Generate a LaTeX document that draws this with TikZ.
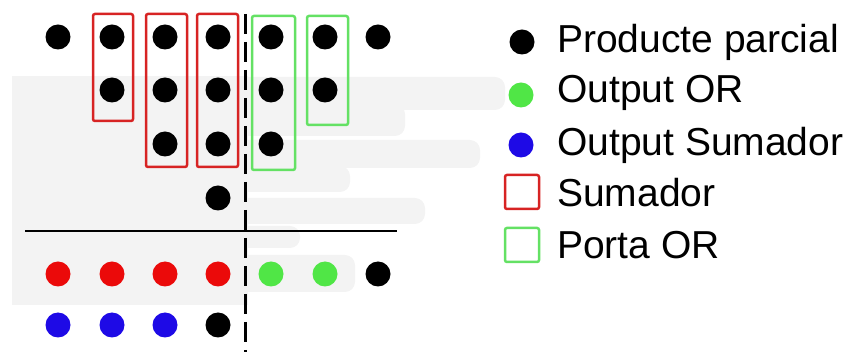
\documentclass[tikz,border=0pt]{standalone}
\usepackage{fontspec}
\setmainfont{Liberation Sans}
\usepackage{xcolor}

\definecolor{dotred}{RGB}{235,10,10}
\definecolor{dotgreen}{RGB}{80,230,70}
\definecolor{dotblue}{RGB}{30,10,230}
\definecolor{boxred}{RGB}{215,35,35}
\definecolor{boxgreen}{RGB}{100,225,100}
\definecolor{backgray}{RGB}{243,243,243}

\tikzset{
	bit/.style={circle, fill=#1, inner sep=0pt, minimum size=25pt},
	bit/.default=black,
	sumbox/.style={draw=boxred, line width=2.5pt, rounded corners=2pt},
	orbox/.style={draw=boxgreen, line width=2.5pt, rounded corners=2pt},
	stroke/.style={fill=backgray, rounded corners=10pt},
	legtext/.style={anchor=west, inner sep=0pt, font=\fontsize{39}{45}\selectfont}
}

\begin{document}
\begin{tikzpicture}[x=1pt, y=-1pt]
	\useasboundingbox (0,0) rectangle (852,352);
	
	% fons gris
	\fill[backgray] (12,76) rectangle (248,305);
	\fill[stroke] (230,77) rectangle (505,110);
	\fill[stroke] (230,104) rectangle (405,136);
	\fill[stroke] (230,140) rectangle (480,168);
	\fill[stroke] (230,166) rectangle (350,192);
	\fill[stroke] (230,198) rectangle (425,224);
	\fill[stroke] (230,226) rectangle (300,248);
	\fill[stroke] (25,255) rectangle (355,292);
	
	% productes parcials
	\foreach \c/\x in {1/58,2/112,3/165,4/218,5/271,6/325,7/378}
		\node[bit] (p1\c) at (\x,37) {};
	\foreach \c/\x in {2/112,3/165,4/218,5/271,6/325}
		\node[bit] (p2\c) at (\x,90) {};
	\foreach \c/\x in {3/165,4/218,5/271}
		\node[bit] (p3\c) at (\x,144) {};
	\node[bit] (p44) at (218,198) {};
	
	% sumadors i portes OR
	\draw[sumbox] (93,14) rectangle (133,121);
	\draw[sumbox] (146,14) rectangle (187,167);
	\draw[sumbox] (197,14) rectangle (238,167);
	\draw[orbox] (252,16) rectangle (295,170);
	\draw[orbox] (307,16) rectangle (348,125);
	
	% linies
	\coordinate (top) at (245,14);
	\coordinate (bot) at (245,352);
	\coordinate (left) at (25,231);
	\coordinate (right) at (397,231);
	\draw[line width=3pt, dash pattern=on 20pt off 8pt] (top) -- (bot);
	\draw[line width=2.5pt] (left) -- (right);
	
	% resultat
	\foreach \c/\x in {1/58,2/112,3/165,4/218}
		\node[bit=dotred] (r1\c) at (\x,274) {};
	\node[bit=dotgreen] (r15) at (271,274) {};
	\node[bit=dotgreen] (r16) at (325,274) {};
	\node[bit] (r17) at (378,274) {};
	\foreach \c/\x in {1/58,2/112,3/165}
		\node[bit=dotblue] (r2\c) at (\x,325) {};
	\node[bit] (r24) at (218,325) {};
	
	% llegenda
	\node[bit] (l1) at (522,42) {};
	\node[bit=dotgreen] (l2) at (521,95) {};
	\node[bit=dotblue] (l3) at (521,145) {};
	\node[draw=boxred, line width=2.5pt, rounded corners=2pt, minimum size=34pt] (l4) at (522,192) {};
	\node[draw=boxgreen, line width=2.5pt, rounded corners=2pt, minimum size=34pt] (l5) at (522,245) {};
	\node[legtext] (t1) at (557,42) {Producte parcial};
	\node[legtext] (t2) at (557,93) {Output OR};
	\node[legtext] (t3) at (557,145) {Output Sumador};
	\node[legtext] (t4) at (557,193) {Sumador};
	\node[legtext] (t5) at (557,245) {Porta OR};
\end{tikzpicture}
\end{document}
